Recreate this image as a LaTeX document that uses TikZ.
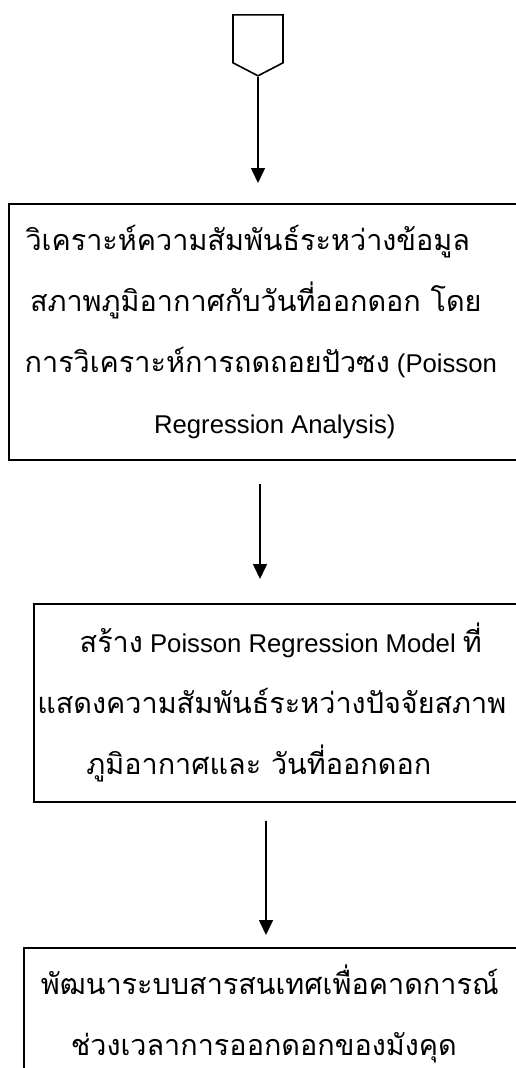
\documentclass[tikz,border=0pt]{standalone}
\usepackage{fontspec}
\setmainfont{Liberation Sans}
\newfontfamily\thai[Script=Thai,Scale=1.12]{Loma}
\usetikzlibrary{arrows.meta,shapes.symbols}
\begin{document}
\begin{tikzpicture}[x=1pt,y=-1pt,
  box/.style={draw,line width=1.6pt,anchor=north west,align=center,inner sep=0pt,
    font=\fontsize{25.7}{61}\selectfont},
  arr/.style={line width=1.6pt,-{Triangle[width=14pt,length=15pt]}},
  conn/.style={draw,line width=1.6pt,signal,signal to=south,signal pointer angle=125,
    minimum width=50pt,minimum height=48pt,inner sep=0pt,anchor=north}]
\useasboundingbox (0,0) rectangle (515,1068);
\node[conn] (p) at (258,14) {};
\node[box,minimum width=510pt,minimum height=256pt] (b1) at (8,203)
  {\hspace*{-32pt}{\thai วิเคราะห์ความสัมพันธ์ระหว่างข้อมูล}\\
   \hspace*{-16pt}{\thai สภาพภูมิอากาศกับวันที่ออกดอก โดย}\\
   \hspace*{-6pt}{\thai การวิเคราะห์การถดถอยปัวซง} (Poisson\\
   \hspace*{22pt}Regression Analysis)};
\node[box,minimum width=490pt,minimum height=198pt] (b2) at (33,603)
  {\hspace*{4pt}{\thai สร้าง} Poisson Regression Model {\thai ที่}\\
   \hspace*{-14pt}{\thai แสดงความสัมพันธ์ระหว่างปัจจัยสภาพ}\\
   \hspace*{-40pt}{\thai ภูมิอากาศและ วันที่ออกดอก}};
\node[box,minimum width=495pt,minimum height=132pt] (b3) at (23,947)
  {\hspace*{-3pt}{\thai พัฒนาระบบสารสนเทศเพื่อคาดการณ์}\\
   \hspace*{-15pt}{\thai ช่วงเวลาการออกดอกของมังคุด}};
\draw[arr,shorten >=20pt] (p.south) -- (p.south |- b1.north);
\draw[arr,shorten <=23pt,shorten >=24pt] (260,0 |- b1.south) -- (260,0 |- b2.north);
\draw[arr,shorten <=18pt,shorten >=12pt] (266,0 |- b2.south) -- (266,0 |- b3.north);
\end{tikzpicture}
\end{document}
